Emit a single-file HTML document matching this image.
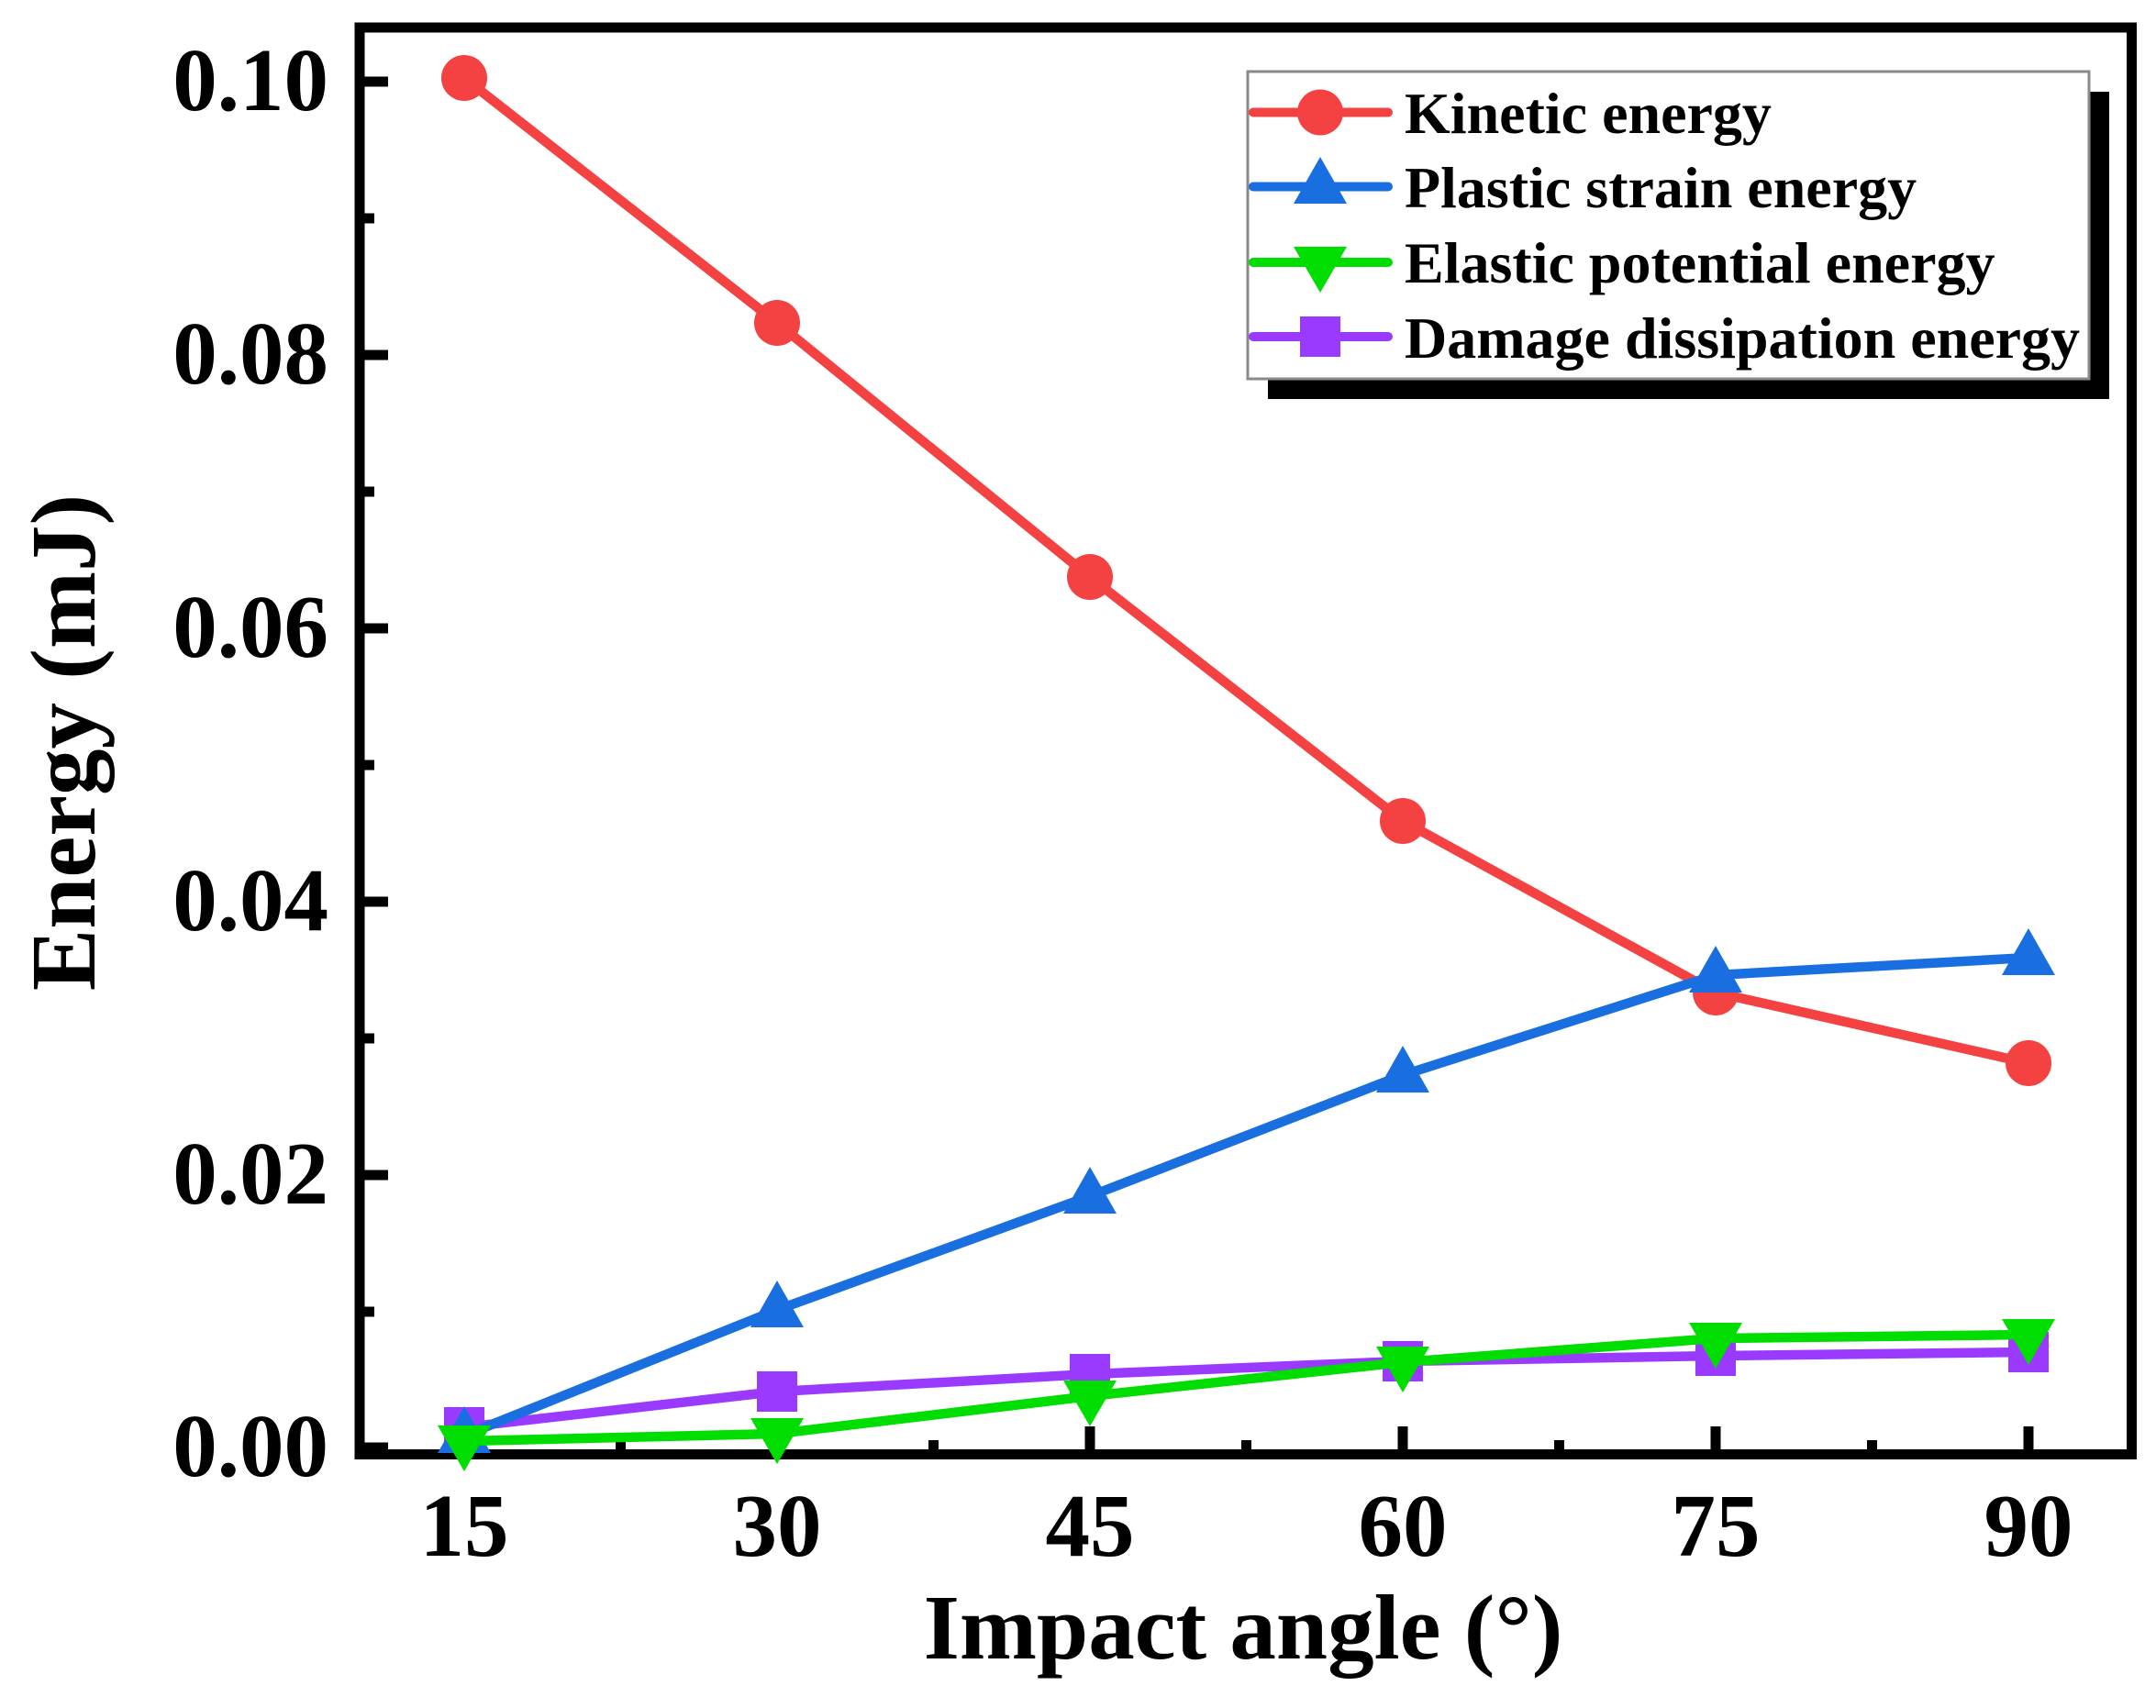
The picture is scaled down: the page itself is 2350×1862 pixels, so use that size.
<!DOCTYPE html>
<html>
<head>
<meta charset="utf-8">
<style>
  html, body { margin: 0; padding: 0; background: #ffffff; }
  svg { display: block; }
  text { font-family: "Liberation Serif", "Times New Roman", serif; font-weight: bold; fill: #000; }
</style>
</head>
<body>
<svg xmlns="http://www.w3.org/2000/svg" width="2350" height="1862" viewBox="0 0 2350 1862">
  <rect x="0" y="0" width="2350" height="1862" fill="#ffffff"/>

  <!-- Y axis ticks -->
  <g stroke="#000" stroke-width="11">
    <line x1="392" y1="89" x2="423" y2="89"/>
    <line x1="392" y1="387" x2="423" y2="387"/>
    <line x1="392" y1="685" x2="423" y2="685"/>
    <line x1="392" y1="983" x2="423" y2="983"/>
    <line x1="392" y1="1281" x2="423" y2="1281"/>
    <line x1="392" y1="1578" x2="423" y2="1578"/>
    <line x1="392" y1="238" x2="408" y2="238"/>
    <line x1="392" y1="536" x2="408" y2="536"/>
    <line x1="392" y1="834" x2="408" y2="834"/>
    <line x1="392" y1="1132" x2="408" y2="1132"/>
    <line x1="392" y1="1430" x2="408" y2="1430"/>
  </g>
  <!-- X axis ticks -->
  <g stroke="#000" stroke-width="11">
    <line x1="506" y1="1586" x2="506" y2="1555"/>
    <line x1="847" y1="1586" x2="847" y2="1555"/>
    <line x1="1188" y1="1586" x2="1188" y2="1555"/>
    <line x1="1529" y1="1586" x2="1529" y2="1555"/>
    <line x1="1870" y1="1586" x2="1870" y2="1555"/>
    <line x1="2211" y1="1586" x2="2211" y2="1555"/>
    <line x1="676.5" y1="1586" x2="676.5" y2="1570"/>
    <line x1="1017.5" y1="1586" x2="1017.5" y2="1570"/>
    <line x1="1358.5" y1="1586" x2="1358.5" y2="1570"/>
    <line x1="1699.5" y1="1586" x2="1699.5" y2="1570"/>
    <line x1="2040.5" y1="1586" x2="2040.5" y2="1570"/>
  </g>

  <!-- Frame -->
  <rect x="392" y="30" width="1931.5" height="1555.5" fill="none" stroke="#000" stroke-width="11"/>

  <!-- Kinetic energy (red) -->
  <polyline fill="none" stroke="#F44141" stroke-width="10.5" stroke-linejoin="round"
    points="506,85 847,352 1188,629 1529,895 1870,1082 2211,1159"/>
  <g fill="#F44141">
    <circle cx="506" cy="85" r="25"/>
    <circle cx="847" cy="352" r="25"/>
    <circle cx="1188" cy="629" r="25"/>
    <circle cx="1529" cy="895" r="25"/>
    <circle cx="1870" cy="1082" r="25"/>
    <circle cx="2211" cy="1159" r="25"/>
  </g>

  <!-- Damage dissipation energy (purple) -->
  <polyline fill="none" stroke="#9A3AFF" stroke-width="10.5" stroke-linejoin="round"
    points="506,1556 847,1517 1188,1498 1529,1484 1870,1478 2211,1474"/>
  <g fill="#9A3AFF">
    <rect x="484" y="1534" width="44" height="44"/>
    <rect x="825" y="1495" width="44" height="44"/>
    <rect x="1166" y="1476" width="44" height="44"/>
    <rect x="1507" y="1462" width="44" height="44"/>
    <rect x="1848" y="1456" width="44" height="44"/>
    <rect x="2189" y="1452" width="44" height="44"/>
  </g>

  <!-- Plastic strain energy (blue) -->
  <polyline fill="none" stroke="#1A6FE0" stroke-width="10.5" stroke-linejoin="round"
    points="506,1565 847,1428 1188,1304 1529,1172 1870,1063 2211,1044"/>
  <g fill="#1A6FE0">
    <polygon points="506,1533 535,1584 477,1584"/>
    <polygon points="847,1396 876,1447 818,1447"/>
    <polygon points="1188,1272 1217,1323 1159,1323"/>
    <polygon points="1529,1140 1558,1191 1500,1191"/>
    <polygon points="1870,1031 1899,1082 1841,1082"/>
    <polygon points="2211,1012 2240,1063 2182,1063"/>
  </g>

  <!-- Elastic potential energy (green) -->
  <polyline fill="none" stroke="#00DD00" stroke-width="10.5" stroke-linejoin="round"
    points="506,1571 847,1563 1188,1522 1529,1485 1870,1459 2211,1455"/>
  <g fill="#00DD00">
    <polygon points="477,1554 535,1554 506,1604"/>
    <polygon points="818,1546 876,1546 847,1596"/>
    <polygon points="1159,1505 1217,1505 1188,1555"/>
    <polygon points="1500,1468 1558,1468 1529,1518"/>
    <polygon points="1841,1442 1899,1442 1870,1492"/>
    <polygon points="2182,1438 2240,1438 2211,1488"/>
  </g>

  <!-- Y tick labels -->
  <g font-size="97" text-anchor="end">
    <text x="358" y="120">0.10</text>
    <text x="358" y="418">0.08</text>
    <text x="358" y="716">0.06</text>
    <text x="358" y="1014">0.04</text>
    <text x="358" y="1312">0.02</text>
    <text x="358" y="1609">0.00</text>
  </g>

  <!-- X tick labels -->
  <g font-size="97" text-anchor="middle">
    <text x="506" y="1696">15</text>
    <text x="847" y="1696">30</text>
    <text x="1188" y="1696">45</text>
    <text x="1529" y="1696">60</text>
    <text x="1870" y="1696">75</text>
    <text x="2211" y="1696">90</text>
  </g>

  <!-- Axis titles -->
  <text x="1355" y="1808" font-size="101" text-anchor="middle">Impact angle (°)</text>
  <text transform="translate(103,809.5) rotate(-90)" font-size="101" text-anchor="middle">Energy (mJ)</text>

  <!-- Legend -->
  <rect x="1382" y="100" width="917" height="335" fill="#000"/>
  <rect x="1360" y="78" width="917" height="335" fill="#ffffff" stroke="#8a8a8a" stroke-width="3"/>

  <g stroke-width="10" stroke-linecap="round">
    <line x1="1366" y1="122.5" x2="1513" y2="122.5" stroke="#F44141"/>
    <line x1="1366" y1="203.5" x2="1513" y2="203.5" stroke="#1A6FE0"/>
    <line x1="1366" y1="286" x2="1513" y2="286" stroke="#00DD00"/>
    <line x1="1366" y1="367" x2="1513" y2="367" stroke="#9A3AFF"/>
  </g>
  <circle cx="1439" cy="122.5" r="25" fill="#F44141"/>
  <polygon points="1439,171 1468,222 1410,222" fill="#1A6FE0"/>
  <polygon points="1410,269 1468,269 1439,319" fill="#00DD00"/>
  <rect x="1417" y="345" width="44" height="44" fill="#9A3AFF"/>

  <g font-size="64">
    <text x="1531" y="145">Kinetic energy</text>
    <text x="1531" y="226">Plastic strain energy</text>
    <text x="1531" y="308">Elastic potential energy</text>
    <text x="1531" y="390">Damage dissipation energy</text>
  </g>
</svg>
</body>
</html>
